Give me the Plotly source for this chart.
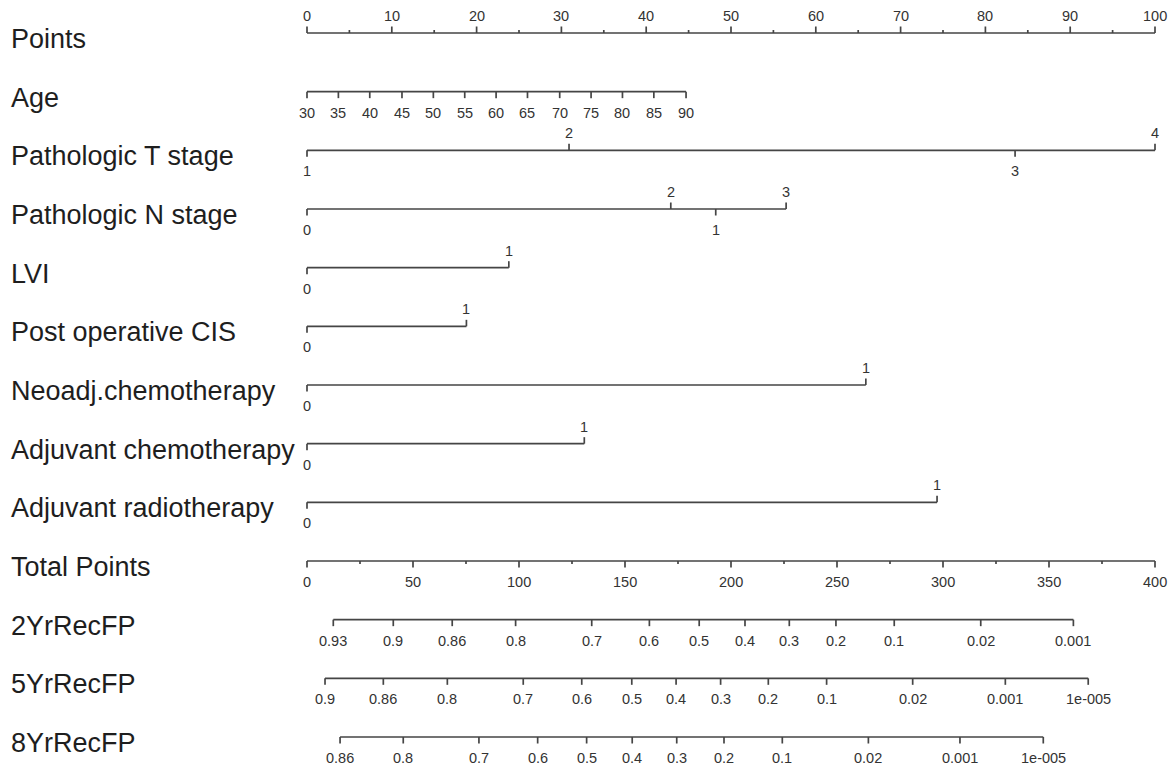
import plotly.graph_objects as go

# ---------------- data ----------------
row_labels = ["Points", "Age", "Pathologic T stage", "Pathologic N stage", "LVI",
              "Post operative CIS", "Neoadj.chemotherapy", "Adjuvant chemotherapy",
              "Adjuvant radiotherapy", "Total Points", "2YrRecFP", "5YrRecFP", "8YrRecFP"]

points_major = [0, 10, 20, 30, 40, 50, 60, 70, 80, 90, 100]
points_minor = [5, 15, 25, 35, 45, 55, 65, 75, 85, 95]

age_labels = ["30", "35", "40", "45", "50", "55", "60", "65", "70", "75", "80", "85", "90"]
age_points = [0, 3.7, 7.4, 11.2, 14.9, 18.6, 22.3, 26.0, 29.8, 33.5, 37.2, 40.9, 44.7]

t_labels = ["1", "2", "3", "4"]
t_points = [0, 30.9, 83.5, 100]
t_above = [False, True, False, True]

n_labels = ["0", "1", "2", "3"]
n_points = [0, 48.2, 42.9, 56.5]
n_above = [False, False, True, True]

binary_labels = ["0", "1"]
lvi_points = [0, 23.8]
cis_points = [0, 18.8]
neoadj_points = [0, 65.9]
adjchemo_points = [0, 32.7]
adjradio_points = [0, 74.3]

total_max = 400
total_major = [0, 50, 100, 150, 200, 250, 300, 350, 400]
total_minor = [25, 75, 125, 175, 225, 275, 325, 375]

p2_labels = ["0.93", "0.9", "0.86", "0.8", "0.7", "0.6", "0.5", "0.4", "0.3", "0.2", "0.1", "0.02", "0.001"]
p2_total = [12.4, 40.7, 68.5, 98.4, 134.3, 161.5, 185.0, 206.6, 227.5, 249.5, 277.0, 317.8, 361.5]

p5_labels = ["0.9", "0.86", "0.8", "0.7", "0.6", "0.5", "0.4", "0.3", "0.2", "0.1", "0.02", "0.001", "1e-005"]
p5_total = [8.5, 36.0, 66.2, 102.0, 129.6, 153.2, 174.1, 195.1, 217.6, 245.1, 285.7, 329.4, 368.5]

p8_labels = ["0.86", "0.8", "0.7", "0.6", "0.5", "0.4", "0.3", "0.2", "0.1", "0.02", "0.001", "1e-005"]
p8_total = [15.6, 45.4, 81.1, 108.8, 131.9, 153.4, 174.4, 196.7, 224.2, 264.8, 308.0, 347.3]

# ---------------- styling ----------------
LINE_COLOR = "#454545"
TICK_TXT = "#333333"
LABEL_TXT = "#1e1e1e"
ROW_PX = 58.67
MAJOR = 6.5 / ROW_PX
MINOR = 3.0 / ROW_PX
TICK_FONT = dict(family="Liberation Sans, Arial, sans-serif", size=14.5, color=TICK_TXT)
LABEL_FONT = dict(family="Liberation Sans, Arial, sans-serif", size=27, color=LABEL_TXT)

fig = go.Figure()
annotations = []


def add_scale(row, positions, labels, above, minor_positions=()):
    xs, ys = [], []
    xs += [min(positions), max(positions), None]
    ys += [row, row, None]
    for p, a in zip(positions, above):
        xs += [p, p, None]
        ys += [row, row - MAJOR if a else row + MAJOR, None]
    for p in minor_positions:
        xs += [p, p, None]
        ys += [row, row - MINOR if above[0] else row + MINOR, None]
    fig.add_trace(go.Scatter(x=xs, y=ys, mode="lines",
                             line=dict(color=LINE_COLOR, width=1.7),
                             hoverinfo="skip", showlegend=False))
    for p, lab, a in zip(positions, labels, above):
        annotations.append(dict(x=p, y=row, xref="x", yref="y", text=lab,
                                showarrow=False, font=TICK_FONT,
                                xanchor="center", yanchor="middle",
                                yshift=17 if a else -21))


def tp(v):
    return v * 100 / total_max


add_scale(0, points_major, [str(v) for v in points_major], [True] * len(points_major), points_minor)
add_scale(1, age_points, age_labels, [False] * len(age_points))
add_scale(2, t_points, t_labels, t_above)
add_scale(3, n_points, n_labels, n_above)
for r, pts in zip(range(4, 9), [lvi_points, cis_points, neoadj_points, adjchemo_points, adjradio_points]):
    add_scale(r, pts, binary_labels, [False, True])
add_scale(9, [tp(v) for v in total_major], [str(v) for v in total_major],
          [False] * len(total_major), [tp(v) for v in total_minor])
add_scale(10, [tp(v) for v in p2_total], p2_labels, [False] * len(p2_total))
add_scale(11, [tp(v) for v in p5_total], p5_labels, [False] * len(p5_total))
add_scale(12, [tp(v) for v in p8_total], p8_labels, [False] * len(p8_total))

for i, lab in enumerate(row_labels):
    annotations.append(dict(x=9 / 1174, y=i, xref="paper", yref="y", text=lab,
                            showarrow=False, font=LABEL_FONT,
                            xanchor="left", yanchor="middle", yshift=-6))

# axis ranges chosen so that 0 points -> x=307px, 100 points -> x=1155px
px_per_pt = (1155 - 307) / 100
x_left = -307 / px_per_pt
x_right = 100 + (1174 - 1155) / px_per_pt
y_top = -33 / ROW_PX
y_bottom = 12 + (765 - 737) / ROW_PX

fig.update_layout(
    width=1174, height=765,
    margin=dict(l=0, r=0, t=0, b=0),
    paper_bgcolor="white", plot_bgcolor="white",
    xaxis=dict(range=[x_left, x_right], visible=False, fixedrange=True),
    yaxis=dict(range=[y_bottom, y_top], visible=False, fixedrange=True),
    annotations=annotations,
    showlegend=False,
)

fig.write_html("out.html", config={"displayModeBar": False},
               post_script="document.body.style.margin='0';document.body.style.overflow='hidden';")
